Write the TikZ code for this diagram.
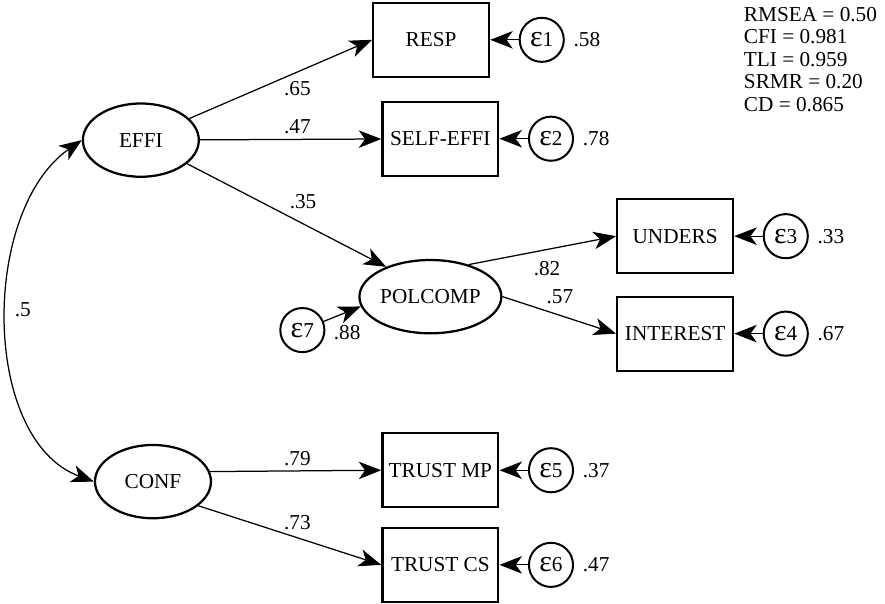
\documentclass[tikz,border=0pt]{standalone}
\usepackage{fontspec}
\setmainfont{Liberation Serif}
\usetikzlibrary{positioning,arrows.meta,shapes.geometric}
\newcommand{\eps}{{\fontsize{12}{12}\selectfont ε}}
\tikzset{
obs/.style={draw, line width=0.9pt, minimum width=1.63cm, minimum height=1.04cm, inner sep=1pt},
lat/.style={ellipse, draw, line width=0.9pt, minimum width=1.63cm, minimum height=1.03cm, inner sep=0pt},
err/.style={circle, draw, line width=0.8pt, minimum size=0.62cm, inner sep=0pt},
tip/.tip={Stealth[length=9pt,width=7pt,inset=2.5pt]},
arr/.style={-tip, line width=0.5pt},
coef/.style={inner sep=1pt}
}
\begin{document}
\begin{tikzpicture}[every node/.style={font=\fontsize{8.5}{9}\selectfont}]
\path[use as bounding box, fill=white] (0,0) rectangle (12.44,8.49);
\node[lat] (effi) at (1.98,6.52) {EFFI};
\node[lat] (conf) at (2.15,1.72) {CONF};
\node[lat] (polcomp) at (6.05,4.32) {POLCOMP};
\node[obs] (resp) at (6.06,7.93) {RESP};
\node[obs] (selfeffi) at (6.19,6.54) {SELF-EFFI};
\node[obs] (unders) at (9.49,5.17) {UNDERS};
\node[obs] (interest) at (9.49,3.80) {INTEREST};
\node[obs] (trustmp) at (6.19,1.88) {TRUST MP};
\node[obs] (trustcs) at (6.19,0.55) {TRUST CS};
\node[err, right=0.4cm of resp] (e1) {\eps1};
\node[err, right=0.4cm of selfeffi] (e2) {\eps2};
\node[err, right=0.4cm of unders] (e3) {\eps3};
\node[err, right=0.4cm of interest] (e4) {\eps4};
\node[err, right=0.4cm of trustmp] (e5) {\eps5};
\node[err, right=0.4cm of trustcs] (e6) {\eps6};
\node[err] (e7) at (4.25,3.85) {\eps7};
\node[right=0cm of e1] (v1) {.58};
\node[right=0cm of e2] (v2) {.78};
\node[right=0cm of e3] (v3) {.33};
\node[right=0cm of e4] (v4) {.67};
\node[right=0cm of e5] (v5) {.37};
\node[right=0cm of e6] (v6) {.47};
\node[coef] (v7) at (4.88,3.81) {.88};
\draw[arr] (effi.24) -- (resp.west);
\draw[arr] (effi) -- (selfeffi);
\draw[arr] (effi.-27) -- (polcomp.146);
\draw[arr] (polcomp.40) -- (unders.west);
\draw[arr] (polcomp.east) -- (interest.west);
\draw[arr] (conf.10) -- (trustmp.west);
\draw[arr] (conf.-28) -- (trustcs.west);
\draw[arr] (e7) -- (polcomp.188);
\foreach \e/\b in {e1/resp,e2/selfeffi,e3/unders,e4/interest,e5/trustmp,e6/trustcs}
\draw[arr] (\e) -- (\b);
\draw[tip-tip, line width=0.5pt] (effi.west) .. controls (-0.27,5.53) and (-0.27,2.31) .. (conf.west);
\node[coef] (c65) at (4.18,7.25) {.65};
\node[coef] (c47) at (4.18,6.71) {.47};
\node[coef] (c35) at (4.26,5.65) {.35};
\node[coef] (c82) at (7.69,4.72) {.82};
\node[coef] (c57) at (7.87,4.32) {.57};
\node[coef] (c79) at (4.18,2.05) {.79};
\node[coef] (c73) at (4.18,1.15) {.73};
\node[coef] (c5) at (0.32,4.13) {.5};
\node[anchor=north west, align=left, inner sep=0pt] (fit) at (10.45,8.40) {RMSEA = 0.50\\CFI = 0.981\\TLI = 0.959\\SRMR = 0.20\\CD = 0.865};
\end{tikzpicture}
\end{document}
